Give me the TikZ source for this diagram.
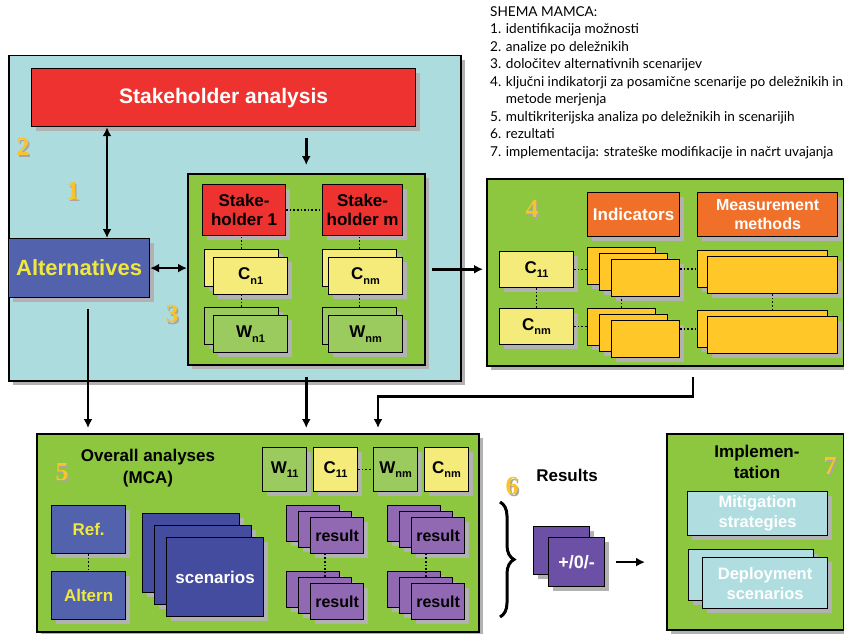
\documentclass[tikz,border=0pt]{standalone}
\usepackage{fontspec}
\setmainfont{Liberation Sans}
\newfontfamily\listfont{Lato}
\newfontfamily\numfont{Liberation Serif}
\usetikzlibrary{arrows.meta,shadows,positioning,calc,decorations.pathreplacing}

\definecolor{panelcyan}{RGB}{173,220,222}
\definecolor{panelgreen}{RGB}{141,198,63}
\definecolor{boxred}{RGB}{237,50,47}
\definecolor{altblue}{RGB}{82,98,172}
\definecolor{scenblue}{RGB}{68,76,160}
\definecolor{cyel}{RGB}{245,235,122}
\definecolor{wgreen}{RGB}{155,202,95}
\definecolor{indorange}{RGB}{240,112,42}
\definecolor{inddark}{RGB}{255,200,40}
\definecolor{respurple}{RGB}{145,105,178}
\definecolor{pmpurple}{RGB}{108,80,165}
\definecolor{txtyellow}{RGB}{240,232,60}
\definecolor{numgold}{RGB}{250,196,40}
\definecolor{lcyan}{RGB}{176,222,224}

\newcommand\lowidx[1]{\raisebox{-0.5ex}{\fontsize{11}{11}\selectfont #1}}
\newcommand\numlbl[1]{\numfont\bfseries\fontsize{26}{26}\selectfont
  \rlap{\kern1.5pt\raisebox{-1.5pt}{\color{black!35}#1}}{\color{numgold}#1}}

\tikzset{
  shd/.style={drop shadow={shadow xshift=4pt, shadow yshift=-4pt, fill=black!30, opacity=1}},
  pnl/.style={shd, draw=black, line width=1.5pt, anchor=north west, inner sep=0pt},
  blk/.style={shd, draw=black, line width=1.2pt, anchor=north west, inner sep=0pt,
    align=center, font=\bfseries\fontsize{17}{19}\selectfont},
  cbox/.style={blk, fill=cyel, minimum width=74pt, minimum height=37pt},
  wbox/.style={blk, fill=wgreen, minimum width=74pt, minimum height=37pt},
  shbox/.style={blk, fill=boxred, minimum height=51pt},
  indbox/.style={blk, fill=inddark, minimum width=68pt, minimum height=37pt},
  mmbox/.style={blk, fill=inddark, minimum width=130pt, minimum height=37pt},
  sqbox/.style={blk, minimum width=44pt, minimum height=44pt},
  resbox/.style={blk, fill=respurple, minimum width=53pt, minimum height=36pt,
    font=\bfseries\fontsize{16}{18}\selectfont},
  scbox/.style={blk, fill=scenblue, minimum width=97pt, minimum height=79pt, text=white},
  depbox/.style={blk, fill=lcyan, minimum width=125pt, minimum height=51pt, text=white,
    font=\bfseries\fontsize{16.5}{20}\selectfont},
  arr/.style={line width=2.6pt, -{Latex[length=9pt,width=9pt]}},
  dbl/.style={line width=2.6pt, {Latex[length=9pt,width=9pt]}-{Latex[length=9pt,width=9pt]}},
  dots/.style={line width=1.6pt, dotted},
  ttl/.style={font=\bfseries\fontsize{17}{22}\selectfont, align=center, inner sep=0pt}
}

\begin{document}
\begin{tikzpicture}[x=1pt, y=-1pt]
  \useasboundingbox[fill=white] (0,0) rectangle (844,634);

  % schema list
  \node[anchor=north west, align=left, inner sep=0pt,
    font=\listfont\fontsize{13.6}{17.5}\selectfont] (legend) at (490,6)
    {SHEMA MAMCA:\\
     1. identifikacija možnosti\\
     2. analize po deležnikih\\
     3. določitev alternativnih scenarijev\\
     4. ključni indikatorji za posamične scenarije po deležnikih in\\
     \hphantom{4. }metode merjenja\\
     5. multikriterijska analiza po deležnikih in scenarijih\\
     6. rezultati\\
     7. implementacija: strateške modifikacije in načrt uvajanja};

  % panel 2
  \node[pnl, fill=panelcyan, minimum width=452pt, minimum height=325pt] (p2) at (8,55) {};
  \node[blk, fill=boxred, text=white, minimum width=384pt, minimum height=58pt,
    font=\bfseries\fontsize{21}{24}\selectfont] (sa) at (31,68) {Stakeholder analysis};
  \node[blk, fill=altblue, text=txtyellow, minimum width=141pt, minimum height=59pt,
    font=\bfseries\fontsize{22}{24}\selectfont] (alt) at (8,238) {Alternatives};
  \node (n2) at (23,148) {\numlbl{2}};
  \node (n1) at (73,192) {\numlbl{1}};

  % panel 3
  \node[pnl, fill=panelgreen, minimum width=237pt, minimum height=191pt] (p3) at (187,173) {};
  \node (n3) at (172,315) {\numlbl{3}};
  \node[shbox, minimum width=83pt] (sh1) at (202,184) {Stake-\\holder 1};
  \node[shbox, minimum width=80pt] (shm) at (322,184) {Stake-\\holder m};
  \node[cbox] (cn1a) at (204,249) {};
  \node[cbox] (cn1b) at (213,257) {C\lowidx{n1}};
  \node[cbox] (cnma) at (322,249) {};
  \node[cbox] (cnmb) at (328,257) {C\lowidx{nm}};
  \node[wbox] (wn1a) at (204,307) {};
  \node[wbox] (wn1b) at (213,315) {W\lowidx{n1}};
  \node[wbox] (wnma) at (322,307) {};
  \node[wbox] (wnmb) at (328,315) {W\lowidx{nm}};
  \draw[dots] (sh1.east) -- (shm.west);
  \draw[dots] (cn1a.north) -- (cn1a.north |- sh1.south);
  \draw[dots] (cnma.north) -- (cnma.north |- shm.south);
  \draw[dots] (wn1a.north) -- (wn1a.north |- cn1b.south);
  \draw[dots] (wnma.north) -- (wnma.north |- cnmb.south);

  % panel 4
  \node[pnl, fill=panelgreen, minimum width=357pt, minimum height=187pt] (p4) at (486,178) {};
  \node (n4) at (532,210) {\numlbl{4}};
  \node[blk, fill=indorange, text=white, minimum width=92pt, minimum height=44pt] (ind) at (587,192) {Indicators};
  \node[blk, fill=indorange, text=white, minimum width=140pt, minimum height=44pt,
    font=\bfseries\fontsize{16}{19}\selectfont] (mm) at (697,192) {Measurement\\methods};
  \node[cbox, minimum height=36pt] (c11) at (499,251) {C\lowidx{11}};
  \node[cbox, minimum height=36pt] (cnm) at (499,308) {C\lowidx{nm}};
  \node[indbox] (ind1a) at (587,247) {};
  \node[indbox] (ind1b) at (599,253) {};
  \node[indbox] (ind1c) at (611,259) {};
  \node[indbox] (ind2a) at (587,308) {};
  \node[indbox] (ind2b) at (599,314) {};
  \node[indbox] (ind2c) at (611,320) {};
  \node[mmbox] (mm1a) at (697,250) {};
  \node[mmbox] (mm1b) at (707,256) {};
  \node[mmbox] (mm2a) at (697,310) {};
  \node[mmbox] (mm2b) at (707,316) {};
  \draw[dots] (c11.south) -- (cnm.north);
  \draw[dots] (c11.east) -- (c11.east -| ind1a.west);
  \draw[dots] (cnm.east) -- (cnm.east -| ind2a.west);
  \draw[dots] (mm1a.west -| ind1c.east) -- (mm1a.west);
  \draw[dots] (mm2a.west -| ind2c.east) -- (mm2a.west);
  \draw[dots] (ind2a.north) -- (ind2a.north |- ind1c.south);
  \draw[dots] (mm1b.south) -- (mm1b.south |- mm2a.north);

  % panel 5
  \node[pnl, fill=panelgreen, minimum width=442pt, minimum height=198pt] (p5) at (36,433) {};
  \node (n5) at (62,473) {\numlbl{5}};
  \node[ttl] (mca) at (148,468) {Overall analyses\\(MCA)};
  \node[sqbox, fill=wgreen] (w11) at (262,447) {W\lowidx{11}};
  \node[sqbox, fill=cyel] (c11b) at (313,447) {C\lowidx{11}};
  \node[sqbox, fill=wgreen] (wnm5) at (373,447) {W\lowidx{nm}};
  \node[sqbox, fill=cyel] (cnm5) at (424,447) {C\lowidx{nm}};
  \draw[dots] (c11b.east) -- (wnm5.west);
  \node[blk, fill=altblue, text=txtyellow, minimum width=74pt, minimum height=48pt] (ref) at (51,505) {Ref.};
  \node[blk, fill=altblue, text=txtyellow, minimum width=74pt, minimum height=48pt] (altn) at (51,571) {Altern};
  \draw[dots] (ref.south) -- (altn.north);
  \node[scbox] (sc1) at (142,513) {};
  \node[scbox] (sc2) at (154,525) {};
  \node[scbox] (sc3) at (166,537) {scenarios};
  \node[resbox] (r1a) at (286,505) {};
  \node[resbox] (r1b) at (298,511) {};
  \node[resbox] (r1c) at (310,517) {result};
  \node[resbox] (r2a) at (387,505) {};
  \node[resbox] (r2b) at (399,511) {};
  \node[resbox] (r2c) at (411,517) {result};
  \node[resbox] (r3a) at (286,571) {};
  \node[resbox] (r3b) at (298,577) {};
  \node[resbox] (r3c) at (310,583) {result};
  \node[resbox] (r4a) at (387,571) {};
  \node[resbox] (r4b) at (399,577) {};
  \node[resbox] (r4c) at (411,583) {result};
  \draw[dots] (r3b.north) -- (r3b.north |- r1c.south);
  \draw[dots] (r4b.north) -- (r4b.north |- r2c.south);

  % results
  \node (n6) at (512,487) {\numlbl{6}};
  \node[ttl] (res) at (567,475) {Results};
  \draw[line width=3pt, decorate, decoration={brace, amplitude=14pt}] (500,502) -- (500,617);
  \node[blk, fill=pmpurple, minimum width=56pt, minimum height=48pt] (pma) at (533,526) {};
  \node[blk, fill=pmpurple, text=white, minimum width=56pt, minimum height=49pt,
    font=\bfseries\fontsize{18}{20}\selectfont] (pm) at (548,537) {+/0/-};

  % panel 7
  \node[pnl, fill=panelgreen, minimum width=177pt, minimum height=196pt] (p7) at (666,433) {};
  \node (n7) at (830,467) {\numlbl{7}};
  \node[ttl, font=\bfseries\fontsize{17}{21}\selectfont] (impl) at (757,462) {Implemen-\\tation};
  \node[depbox, minimum width=140pt, minimum height=44pt] (mit) at (687,491) {Mitigation\\strategies};
  \node[depbox] (dep1) at (688,549) {};
  \node[depbox] (dep2) at (702,557) {Deployment\\scenarios};

  % connectors
  \draw[dbl] ([xshift=76pt]sa.south west) -- ([xshift=99pt]alt.north west);
  \draw[arr, shorten <=11pt, shorten >=8pt] (sa.south -| p3.north) -- (p3.north);
  \draw[dbl] (alt.east) -- (alt.east -| p3.west);
  \draw[arr, shorten <=6pt, shorten >=3pt] (p3.east) -- (p3.east -| p4.west);
  \draw[arr, shorten <=11pt, shorten >=5pt] ([xshift=80pt]alt.south west) -- ([xshift=80pt]alt.south west |- p5.north);
  \draw[arr, shorten <=11pt, shorten >=5pt] (p3.south) -- (p3.south |- p5.north);
  \draw[arr, shorten <=10pt, shorten >=5pt] ([xshift=207pt]p4.south west) -- ++(0,30) -| ([xshift=342pt]p5.north west);
  \draw[arr, shorten <=11pt, shorten >=21pt] (pm.east) -- (pm.east -| p7.west);
\end{tikzpicture}
\end{document}
